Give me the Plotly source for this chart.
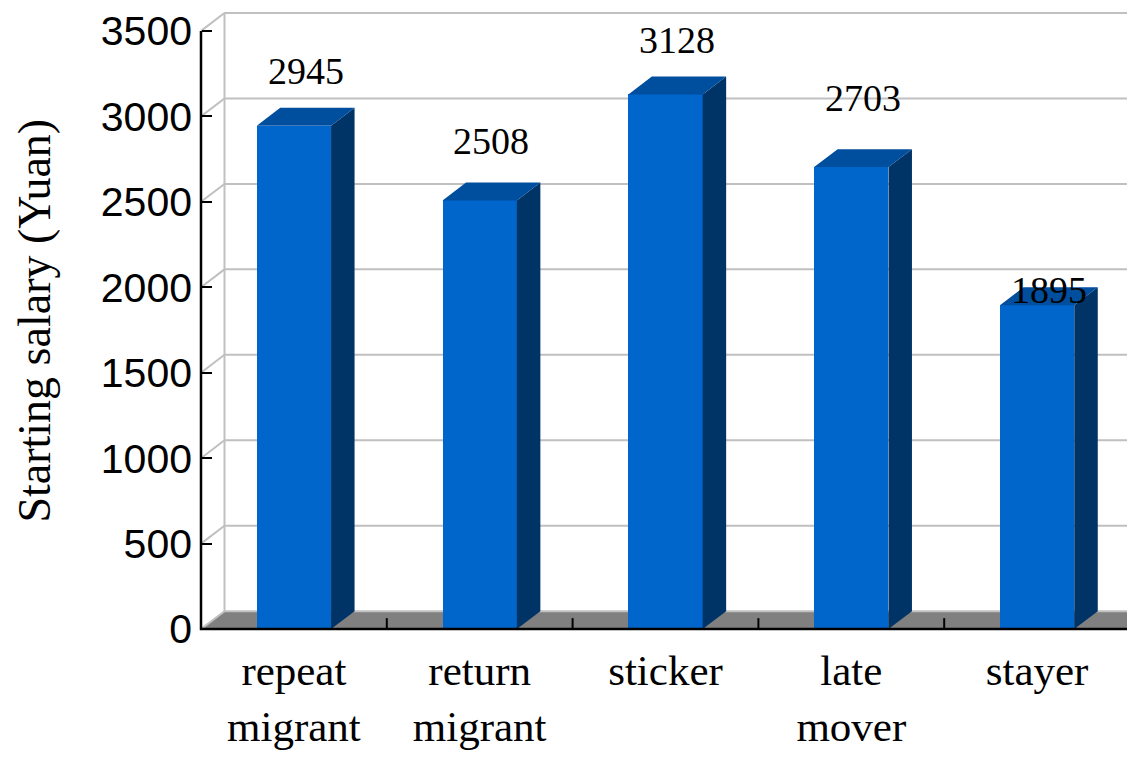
import plotly.graph_objects as go

# ---- data ----
categories = ["repeat<br>migrant", "return<br>migrant", "sticker", "late<br>mover", "stayer"]
salaries = [2945, 2508, 3128, 2703, 1895]
y_ticks = [0, 500, 1000, 1500, 2000, 2500, 3000, 3500]
y_title = "Starting salary (Yuan)"

# ---- geometry / style ----
OFF = 8  # default page margin of the html body
W, H = 1135 - OFF, 758 - OFF
ML, MR, MT, MB = 172, 0, 0, 110
plot_w = W - ML - MR
plot_h = H - MT - MB
x0_px, x_unit_px = 201 - OFF, 185.8
y0_px, y_unit_px = 629 - OFF, 601 / 3500
x_range = [-0.5 - (x0_px - ML) / x_unit_px, -0.5 + (W - MR - x0_px) / x_unit_px]
y_range = [-(MT + plot_h - y0_px) / y_unit_px, (y0_px - MT) / y_unit_px]
DX = 23.5 / x_unit_px
DY = 18 / y_unit_px
BW = 0.4
label_lift = [319, 349, 317, 404, 88]

FRONT, TOP, SIDE = "#0066CC", "#004E9E", "#003366"
FLOOR, GRID = "#808080", "#C0C0C0"

n = len(salaries)
xs = list(range(n))
xL, xR = -0.5, n - 0.5

fig = go.Figure()

# front faces
fig.add_trace(go.Bar(x=xs, y=salaries, width=BW, marker=dict(color=FRONT, line=dict(width=0)),
                     hoverinfo="skip", showlegend=False))

# side and top faces
side_x, side_y, top_x, top_y = [], [], [], []
for i, v in zip(xs, salaries):
    r = i + BW / 2
    l = i - BW / 2
    side_x += [r, r + DX, r + DX, r, r, None]
    side_y += [0, DY, v + DY, v, 0, None]
    top_x += [l, r, r + DX, l + DX, l, None]
    top_y += [v, v, v + DY, v + DY, v, None]
fig.add_trace(go.Scatter(x=side_x, y=side_y, fill="toself", fillcolor=SIDE, mode="lines",
                         line=dict(width=0, color=SIDE), hoverinfo="skip", showlegend=False))
fig.add_trace(go.Scatter(x=top_x, y=top_y, fill="toself", fillcolor=TOP, mode="lines",
                         line=dict(width=0, color=TOP), hoverinfo="skip", showlegend=False))

# front axis lines
fig.add_trace(go.Scatter(x=[xL, xL, xR], y=[y_ticks[-1], 0, 0], mode="lines",
                         line=dict(color="black", width=2.5), hoverinfo="skip", showlegend=False))
# category boundary ticks
tx, ty = [], []
for b in range(1, n + 1):
    tx += [b - 0.5, b - 0.5, None]
    ty += [0, 11 / y_unit_px, None]
fig.add_trace(go.Scatter(x=tx, y=ty, mode="lines", line=dict(color="black", width=2),
                         hoverinfo="skip", showlegend=False))

# floor, walls, gridlines (shapes below traces)
shapes = []
shapes.append(dict(type="path", xref="x", yref="y", layer="below",
                   path=f"M {xL},0 L {xR},0 L {xR + DX},{DY} L {xL + DX},{DY} Z",
                   fillcolor=FLOOR, line=dict(width=0)))
for v in y_ticks:
    shapes.append(dict(type="path", xref="x", yref="y", layer="below",
                       path=f"M {xL},{v} L {xL + DX},{v + DY} L {x_range[1] + 1},{v + DY}",
                       line=dict(color=GRID, width=2)))
shapes.append(dict(type="line", xref="x", yref="y", layer="below",
                   x0=xL + DX, x1=xL + DX, y0=DY, y1=y_ticks[-1] + DY,
                   line=dict(color=GRID, width=2)))

# value labels
annotations = []
for i, v, lift in zip(xs, salaries, label_lift):
    annotations.append(dict(x=i + DX / 2, y=v + lift, xref="x", yref="y", text=str(v),
                            showarrow=False, xanchor="center", yanchor="middle",
                            font=dict(family="Liberation Serif", size=38, color="black")))
annotations.append(dict(x=(35 - OFF - ML) / plot_w, y=(MT + plot_h - (319 - OFF)) / plot_h,
                        xref="paper", yref="paper",
                        text=y_title, textangle=-90, showarrow=False, xanchor="center", yanchor="middle",
                        font=dict(family="Liberation Serif", size=46, color="black")))

fig.update_layout(
    width=W, height=H, margin=dict(l=ML, r=MR, t=MT, b=MB),
    paper_bgcolor="white", plot_bgcolor="white",
    shapes=shapes, annotations=annotations, showlegend=False, bargap=0,
    xaxis=dict(range=x_range, tickvals=xs, ticktext=categories, ticks="", showgrid=False,
               zeroline=False, showline=False, anchor="free", position=(MT + plot_h - y0_px) / plot_h,
               ticklabelstandoff=12,
               tickfont=dict(family="Liberation Serif", size=43, color="black"), fixedrange=True),
    yaxis=dict(range=y_range, tickvals=y_ticks, ticks="inside", ticklen=10, tickwidth=2,
               tickcolor="black", showgrid=False, zeroline=False, showline=False,
               anchor="free", position=(x0_px - ML) / plot_w, ticklabelstandoff=9,
               ticklabeloverflow="allow",
               tickfont=dict(family="Liberation Sans", size=41, color="black"), fixedrange=True),
)

fig.write_html("out.html")
